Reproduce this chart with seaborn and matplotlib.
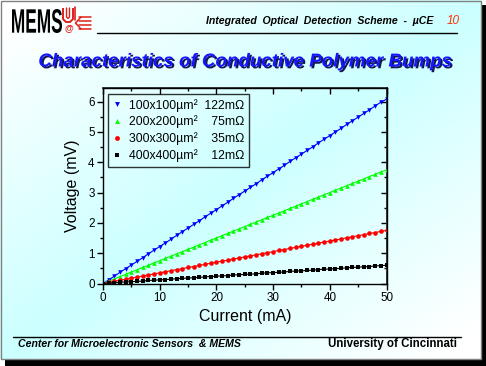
import numpy as np
import pandas as pd
import matplotlib
matplotlib.use('Agg')
import matplotlib.pyplot as plt
import seaborn as sns
from matplotlib import patheffects as pe
from matplotlib.patches import Rectangle, PathPatch
from matplotlib.textpath import TextPath
from matplotlib.font_manager import FontProperties
from matplotlib.transforms import Affine2D
from matplotlib.lines import Line2D

# ---------------- data ----------------
current = [0, 1, 2, 3, 4, 5, 6, 7, 8, 9, 10, 11, 12, 13, 14, 15, 16, 17, 18, 19, 20,
           21, 22, 23, 24, 25, 26, 27, 28, 29, 30, 31, 32, 33, 34, 35, 36, 37, 38, 39, 40,
           41, 42, 43, 44, 45, 46, 47, 48, 49, 50]
v_100 = [0.00, 0.12, 0.24, 0.37, 0.49, 0.61, 0.73, 0.85, 0.98, 1.10, 1.22, 1.34, 1.46, 1.59,
         1.71, 1.83, 1.95, 2.07, 2.20, 2.32, 2.44, 2.56, 2.68, 2.81, 2.93, 3.05, 3.17, 3.29,
         3.42, 3.54, 3.66, 3.78, 3.90, 4.03, 4.15, 4.27, 4.39, 4.51, 4.64, 4.76, 4.88, 5.00,
         5.12, 5.25, 5.37, 5.49, 5.61, 5.73, 5.86, 5.98, 6.08]
v_200 = [0.00, 0.08, 0.15, 0.23, 0.30, 0.38, 0.45, 0.53, 0.60, 0.68, 0.75, 0.83, 0.90, 0.98,
         1.05, 1.13, 1.20, 1.28, 1.35, 1.43, 1.50, 1.58, 1.65, 1.73, 1.80, 1.88, 1.95, 2.03,
         2.10, 2.18, 2.25, 2.33, 2.40, 2.48, 2.55, 2.63, 2.70, 2.78, 2.85, 2.93, 3.00, 3.08,
         3.15, 3.23, 3.30, 3.38, 3.45, 3.53, 3.60, 3.68, 3.75]
v_300 = [0.00, 0.04, 0.07, 0.11, 0.14, 0.18, 0.21, 0.25, 0.28, 0.32, 0.35, 0.39, 0.42, 0.46,
         0.49, 0.53, 0.56, 0.60, 0.63, 0.67, 0.70, 0.74, 0.77, 0.81, 0.84, 0.88, 0.91, 0.95,
         0.98, 1.02, 1.05, 1.09, 1.12, 1.16, 1.19, 1.23, 1.26, 1.30, 1.33, 1.37, 1.40, 1.44,
         1.47, 1.51, 1.54, 1.58, 1.61, 1.65, 1.68, 1.72, 1.75]
v_400 = [0.00, 0.01, 0.02, 0.04, 0.05, 0.06, 0.07, 0.08, 0.10, 0.11, 0.12, 0.13, 0.14, 0.16,
         0.17, 0.18, 0.19, 0.20, 0.22, 0.23, 0.24, 0.25, 0.26, 0.28, 0.29, 0.30, 0.31, 0.32,
         0.34, 0.35, 0.36, 0.37, 0.38, 0.40, 0.41, 0.42, 0.43, 0.44, 0.46, 0.47, 0.48, 0.49,
         0.50, 0.52, 0.53, 0.54, 0.55, 0.56, 0.58, 0.59, 0.60]

sizes = ["100x100µm²", "200x200µm²", "300x300µm²", "400x400µm²"]
resistances = ["122mΩ", "\u200775mΩ", "\u200735mΩ", "\u200712mΩ"]
series_values = [v_100, v_200, v_300, v_400]
colors = ['#0000ff', '#00ff00', '#ff0000', '#000000']
marker_styles = ['v', '^', 'o', 's']

x_ticks = [0, 10, 20, 30, 40, 50]
y_ticks = [0, 1, 2, 3, 4, 5, 6]

labels = [f"{s}  {r}" for s, r in zip(sizes, resistances)]

rows = []
for lab, vals in zip(labels, series_values):
    for c, v in zip(current, vals):
        rows.append({'series': lab, 'current': c, 'voltage': v})
df = pd.DataFrame(rows)

# ---------------- figure ----------------
sns.set_theme(style='white')
plt.rcParams['font.family'] = ['Liberation Sans', 'DejaVu Sans']

W, H = 486, 366
fig = plt.figure(figsize=(W / 100, H / 100), dpi=100)
fig.patch.set_facecolor('white')

# background / decoration axes in pixel coordinates
bg = fig.add_axes([0, 0, 1, 1], zorder=-10)
sw, sh = 481, 359
gx = np.linspace(0, 1, 300)
gy = np.linspace(0, 1, 300)
GX, GY = np.meshgrid(gx, gy)
t = np.clip(np.abs(GX + GY - 1) * 1.1, 0, 1)
c0 = np.array([0.80, 1.0, 1.0])
c1 = np.array([1.0, 1.0, 1.0])
img = c0 * (1 - t[..., None]) + c1 * t[..., None]
bg.imshow(img, extent=(0, sw, sh, 0), aspect='auto', interpolation='bilinear')
bg.set_xlim(0, W)
bg.set_ylim(H, 0)
bg.axis('off')

bg.add_patch(Rectangle((481, 5), 5, 361, color='black', lw=0))
bg.add_patch(Rectangle((5, 359), 481, 7, color='black', lw=0))
bg.add_patch(Rectangle((0.5, 0.5), 480.5, 358.5, fill=False, edgecolor='#808080', lw=1))

# MEMS logo text (condensed)
tp = TextPath((0, 0), 'MEMS', size=1, prop=FontProperties(family='Liberation Sans', weight='bold'))
bb = tp.get_extents()
sx = 50 / bb.width
sy = 24 / bb.height
tr = Affine2D().translate(-bb.x0, -bb.y0).scale(sx, -sy).translate(12, 33) + bg.transData
bg.add_patch(PathPatch(tp, transform=tr, facecolor='black', lw=0))

# UC logo approximation (red)
red = '#e0201a'
bg.plot([63, 63, 66, 70, 73, 73], [8, 19, 22, 22, 19, 8], color=red, lw=1.4, solid_capstyle='butt')
bg.plot([66.5, 66.5, 68, 69.5, 69.5], [8, 17, 18.5, 17, 8], color=red, lw=1.0)
bg.plot([75, 75], [7, 20], color=red, lw=1.2)
for yy in [17, 21, 25, 29]:
    bg.plot([79, 91], [yy, yy], color=red, lw=1.1)
bg.plot([81, 75.5, 81], [17, 23, 29], color=red, lw=1.1)
bg.text(68.5, 28, '@', color=red, fontsize=6.5, ha='center', va='center', weight='bold')

# header
bg.text(433, 21, 'Integrated  Optical  Detection  Scheme  -  µCE', ha='right', va='center',
        fontsize=7.6, weight='bold', style='italic', color='black')
bg.text(447, 21, '10', ha='left', va='center', fontsize=8.5, style='italic', color='#ff3000')
bg.plot([97, 457], [33, 33], color='black', lw=1)

# title
bg.text(245, 62, 'Characteristics of Conductive Polymer Bumps', ha='center', va='center',
        fontsize=13.5, weight='bold', style='italic', color='#1515ff',
        path_effects=[pe.withSimplePatchShadow(offset=(1.3, -1.3), shadow_rgbFace='#000040', alpha=0.9)])

# footer
bg.plot([13, 461], [337, 337], color='black', lw=1)
bg.text(18, 344, 'Center for Microelectronic Sensors  & MEMS', ha='left', va='center',
        fontsize=7.6, weight='bold', style='italic', color='black')
bg.text(457, 344, 'University of Cincinnati', ha='right', va='center',
        fontsize=8.3, weight='bold', color='black')

# ---------------- main plot ----------------
ax = fig.add_axes([103 / W, 1 - 283.5 / H, 283.5 / W, 195.5 / H])
ax.set_facecolor('none')

sns.lineplot(data=df, x='current', y='voltage', hue='series', style='series',
             hue_order=labels, style_order=labels,
             palette=dict(zip(labels, colors)), markers=dict(zip(labels, marker_styles)),
             dashes=False, markersize=3.3, markeredgewidth=0, linewidth=0.8,
             legend=False, sort=False, ax=ax)

ax.set_xlim(0, 50)
ax.set_ylim(0, 6.45)
ax.set_xticks(x_ticks)
ax.set_xticks([5, 15, 25, 35, 45], minor=True)
ax.set_yticks(y_ticks)
ax.set_yticks([0.5, 1.5, 2.5, 3.5, 4.5, 5.5], minor=True)
for s in ax.spines.values():
    s.set_visible(True)
    s.set_color('black')
    s.set_linewidth(1)
ax.tick_params(which='both', direction='out', left=True, bottom=True, colors='black',
               labelsize=8.4, pad=2)
ax.tick_params(which='major', length=4, width=1)
ax.tick_params(which='minor', length=2, width=1)

secx = ax.secondary_xaxis('top')
secx.set_xticks(x_ticks)
secx.set_xticks([5, 15, 25, 35, 45], minor=True)
secx.tick_params(which='both', direction='in', labeltop=False, colors='black')
secx.tick_params(which='major', length=4, width=1)
secx.tick_params(which='minor', length=2, width=1)
secy = ax.secondary_yaxis('right')
secy.set_yticks(y_ticks)
secy.set_yticks([0.5, 1.5, 2.5, 3.5, 4.5, 5.5], minor=True)
secy.tick_params(which='both', direction='in', labelright=False, colors='black')
secy.tick_params(which='major', length=4, width=1)
secy.tick_params(which='minor', length=2, width=1)

ax.set_xlabel('Current (mA)', fontsize=11.5, color='black', labelpad=4)
ax.set_ylabel('Voltage (mV)', fontsize=11.5, color='black', labelpad=6)
ax.grid(False)

handles = [Line2D([], [], color=c, marker=m, linestyle='none', markersize=3.5, markeredgewidth=0)
           for c, m in zip(colors, marker_styles)]
leg = ax.legend(handles, labels, loc='upper left', bbox_to_anchor=(5 / 283.5, 1 - 6 / 195.5),
                borderaxespad=0, frameon=True, fancybox=False, edgecolor='black',
                fontsize=8.8, handlelength=0.7, handletextpad=0.6, borderpad=0.4,
                labelspacing=0.32)
leg.get_frame().set_facecolor('none')
leg.get_frame().set_linewidth(1)
for txt in leg.get_texts():
    txt.set_color('black')

fig.savefig('out.png', dpi=100)
